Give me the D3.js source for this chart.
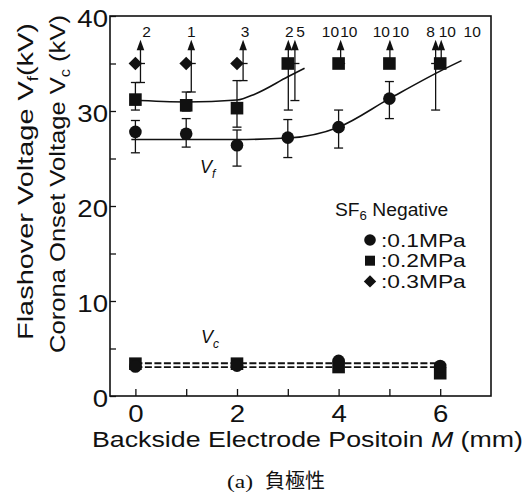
<!DOCTYPE html>
<html>
<head>
<meta charset="utf-8">
<script src="https://cdn.jsdelivr.net/npm/d3@7"></script>
<style>
body{margin:0;background:#fff;}
svg{display:block;}
text{font-family:"Liberation Sans",Arial,sans-serif;fill:#111;}
</style>
</head>
<body>
<div id="chart"></div>
<script>
// values (kV vs position M in mm)
var xTicks = [0, 1, 2, 3, 4, 5, 6];
var xTickLabels = [0, 2, 4, 6];
var yTicks = [0, 5, 10, 15, 20, 25, 30, 35, 40];
var yTickLabels = [0, 10, 20, 30, 40];

// flashover voltage: [M, value, low, high]
var vf01 = [[0, 27.8, 25.6, 29.0], [1, 27.6, 26.2, 29.2], [2, 26.4, 24.2, 28.0], [3, 27.2, 25.1, 29.1], [4, 28.3, 26.1, 30.1], [5, 31.3, 29.2, 33.1]];
var vf02 = [[0, 31.2, 30.1, 33.0], [1, 30.6, 30.0, 32.0], [2, 30.3, 28.3, 33.2], [3, 35, 35, 35], [4, 35, 35, 35], [5, 35, 35, 35], [6, 35, 35, 35]];
var vf03 = [[0, 35], [1, 35], [2, 35]];

// hand drawn fit curves
var fit01 = [[-0.08, 27.0], [1, 27.0], [2, 27.0], [3, 27.15], [4, 28.3], [5, 31.3], [6, 34.2], [6.42, 35.3]];
var fit02 = [[-0.08, 31.15], [1, 30.95], [2, 31.15], [2.36, 31.8], [3, 33.6], [3.33, 34.5]];

// corona onset voltage
var vc01 = [[0, 3.1], [2, 3.2], [4, 3.7], [6, 3.15]];
var vc02 = [[0, 3.4], [2, 3.4], [4, 3.05], [6, 2.4]];
var vcFitA = [[0, 3.45], [6, 3.45]];
var vcFitB = [[0, 3.05], [6, 3.05]];

// no-flashover arrows: [M, lower end], and the counts written above them
var arrows = [[0.1, 33.0], [1.1, 32.0], [2.12, 33.2], [3.01, 30.1], [3.14, 31.1], [4.04, 35], [5.01, 35], [5.91, 30.1], [6.02, 35]];
var counts = [[0.22, "2"], [1.1, "1"], [2.16, "3"], [3.03, "2"], [3.25, "5"], [3.84, "10"], [4.2, "10"], [4.84, "10"], [5.22, "10"], [5.81, "8"], [6.14, "10"], [6.63, "10"]];
var legendItems = [{shape: "circle", label: ":0.1MPa"}, {shape: "square", label: ":0.2MPa"}, {shape: "diamond", label: ":0.3MPa"}];

var W = 530, H = 493;
var svg = d3.select("#chart").append("svg").attr("width", W).attr("height", H);

var x = d3.scaleLinear().domain([-0.5, 7]).range([110, 491]);
var y = d3.scaleLinear().domain([0, 40]).range([396, 16]);

// stretch text horizontally (the original font is wide)
function stretch(sel, k) {
  sel.each(function() {
    var w = this.getComputedTextLength();
    d3.select(this).attr("textLength", w * k).attr("lengthAdjust", "spacingAndGlyphs");
  });
}

// axes
var xAxis = svg.append("g").attr("transform", "translate(0," + y(0) + ")")
  .call(d3.axisBottom(x).tickValues(xTicks).tickSize(-7).tickPadding(10)
    .tickFormat(function(d) { return xTickLabels.indexOf(d) >= 0 ? d : ""; }));
var yAxis = svg.append("g").attr("transform", "translate(" + x(-0.5) + ",0)")
  .call(d3.axisLeft(y).tickValues(yTicks).tickSize(-6).tickPadding(2)
    .tickFormat(function(d) { return yTickLabels.indexOf(d) >= 0 ? d : ""; }));
[xAxis, yAxis].forEach(function(a) {
  a.select(".domain").remove();
  a.selectAll("line").attr("stroke", "#111").attr("stroke-width", 1.3);
  a.selectAll("text").attr("font-size", 23).attr("fill", "#111")
    .style("font-family", '"Liberation Sans",Arial,sans-serif');
});
yAxis.selectAll("text").attr("dy", "0.45em");
stretch(xAxis.selectAll("text"), 1.2);
stretch(yAxis.selectAll("text"), 1.2);

// frame
svg.append("rect").attr("x", x(-0.5)).attr("y", y(40))
  .attr("width", x(7) - x(-0.5)).attr("height", y(0) - y(40))
  .attr("fill", "none").attr("stroke", "#111").attr("stroke-width", 1.6);

// fit curves
var line = d3.line().x(function(d) { return x(d[0]); }).y(function(d) { return y(d[1]); })
  .curve(d3.curveMonotoneX);
[fit01, fit02].forEach(function(f) {
  svg.append("path").attr("d", line(f)).attr("fill", "none").attr("stroke", "#111").attr("stroke-width", 1.6);
});
[vcFitA, vcFitB].forEach(function(f) {
  svg.append("path").attr("d", line(f)).attr("fill", "none").attr("stroke", "#111")
    .attr("stroke-width", 1.8).attr("stroke-dasharray", "7,2.5");
});

// error bars
var cap = 4.5;
function errBar(xv, lo, hi) {
  var g = svg.append("g").attr("stroke", "#111").attr("stroke-width", 1.3);
  g.append("line").attr("x1", x(xv)).attr("x2", x(xv)).attr("y1", y(lo)).attr("y2", y(hi));
  [lo, hi].forEach(function(v) {
    g.append("line").attr("x1", x(xv) - cap).attr("x2", x(xv) + cap).attr("y1", y(v)).attr("y2", y(v));
  });
}
vf01.forEach(function(d) { errBar(d[0], d[2], d[3]); });
vf02.forEach(function(d) { if (d[2] < d[3]) errBar(d[0], d[2], d[3]); });

// arrows (did not flash over up to the max test voltage)
var tipV = 37.5;
arrows.forEach(function(a) {
  var g = svg.append("g");
  var px = x(a[0]);
  g.append("line").attr("x1", px).attr("x2", px).attr("y1", y(a[1])).attr("y2", y(tipV) + 8)
    .attr("stroke", "#111").attr("stroke-width", 1.3);
  g.append("line").attr("x1", px - cap).attr("x2", px + cap).attr("y1", y(35)).attr("y2", y(35))
    .attr("stroke", "#111").attr("stroke-width", 1.3);
  if (a[1] < 35) {
    g.append("line").attr("x1", px - cap).attr("x2", px + cap).attr("y1", y(a[1])).attr("y2", y(a[1]))
      .attr("stroke", "#111").attr("stroke-width", 1.3);
  }
  g.append("path").attr("d", "M" + px + "," + y(tipV) + "L" + (px - 3.8) + "," + (y(tipV) + 10.5) + "L" + (px + 3.8) + "," + (y(tipV) + 10.5) + "Z")
    .attr("fill", "#111");
});
svg.append("g").selectAll("text").data(counts).enter().append("text")
  .attr("x", function(d) { return x(d[0]); }).attr("y", y(37.75))
  .attr("text-anchor", "middle").attr("font-size", 15.5)
  .text(function(d) { return d[1]; });

// markers
function marker(g, shape, cx, cy) {
  if (shape === "circle") g.append("circle").attr("cx", cx).attr("cy", cy).attr("r", 6.3).attr("fill", "#111");
  else if (shape === "square") g.append("rect").attr("x", cx - 6.3).attr("y", cy - 6.3).attr("width", 12.6).attr("height", 12.6).attr("fill", "#111");
  else g.append("path").attr("d", "M" + cx + "," + (cy - 6.8) + "L" + (cx + 6.8) + "," + cy + "L" + cx + "," + (cy + 6.8) + "L" + (cx - 6.8) + "," + cy + "Z").attr("fill", "#111");
}
var mk = svg.append("g");
vc02.forEach(function(d) { marker(mk, "square", x(d[0]), y(d[1])); });
vc01.forEach(function(d) { marker(mk, "circle", x(d[0]), y(d[1])); });
vf01.forEach(function(d) { marker(mk, "circle", x(d[0]), y(d[1])); });
vf02.forEach(function(d) { marker(mk, "square", x(d[0]), y(d[1])); });
vf03.forEach(function(d) { marker(mk, "diamond", x(d[0]), y(d[1])); });

// curve labels
function vLabel(px, py, sub) {
  var t = svg.append("text").attr("x", px).attr("y", py).attr("font-size", 18).attr("font-style", "italic");
  t.append("tspan").text("V");
  t.append("tspan").attr("font-size", 12).attr("dy", 5).text(sub);
}
vLabel(200, 173, "f");
vLabel(201, 343, "c");

// legend
var lg = svg.append("g");
var lt = lg.append("text").attr("x", 335).attr("y", 216).attr("font-size", 17.5);
lt.append("tspan").text("SF");
lt.append("tspan").attr("font-size", 12).attr("dy", 4).text("6");
lt.append("tspan").attr("dy", -4).text(" Negative");
stretch(lt, 1.1);
legendItems.forEach(function(d, i) {
  var cy = 240 + i * 20.7;
  if (d.shape === "circle") lg.append("circle").attr("cx", 370).attr("cy", cy).attr("r", 5.8).attr("fill", "#111");
  else if (d.shape === "square") lg.append("rect").attr("x", 365).attr("y", cy - 5).attr("width", 10).attr("height", 10).attr("fill", "#111");
  else lg.append("path").attr("d", "M370," + (cy - 6.2) + "L376.2," + cy + "L370," + (cy + 6.2) + "L363.8," + cy + "Z").attr("fill", "#111");
  var t = lg.append("text").attr("x", 381).attr("y", cy + 6.5).attr("font-size", 17.5).text(d.label);
  stretch(t, 1.3);
});

// axis titles
var xt = svg.append("text").attr("x", 92).attr("y", 447).attr("font-size", 22);
xt.append("tspan").text("Backside Electrode Positoin ");
xt.append("tspan").attr("font-style", "italic").text("M");
xt.append("tspan").text(" (mm)");
xt.attr("textLength", 431).attr("lengthAdjust", "spacingAndGlyphs");

var y1 = svg.append("text").attr("transform", "translate(33,181.5) rotate(-90)")
  .attr("text-anchor", "middle").attr("font-size", 22);
y1.append("tspan").text("Flashover Voltage V");
y1.append("tspan").attr("font-size", 14).attr("dy", 5).text("f");
y1.append("tspan").attr("dy", -5).text("(kV)");
y1.attr("textLength", 317).attr("lengthAdjust", "spacingAndGlyphs");

var y2 = svg.append("text").attr("transform", "translate(65,184) rotate(-90)")
  .attr("text-anchor", "middle").attr("font-size", 22);
y2.append("tspan").text("Corona Onset Voltage V");
y2.append("tspan").attr("font-size", 14).attr("dy", 5).text("c");
y2.append("tspan").attr("dy", -5).text(" (kV)");
y2.attr("textLength", 338).attr("lengthAdjust", "spacingAndGlyphs");

// caption
svg.append("text").attr("x", 227).attr("y", 488).attr("font-size", 19)
  .style("font-family", '"Liberation Serif","Times New Roman",serif').text("(a)")
  .attr("textLength", 26).attr("lengthAdjust", "spacingAndGlyphs");
svg.append("text").attr("x", 265).attr("y", 488).attr("font-size", 20)
  .style("font-family", '"Noto Sans CJK JP","Noto Sans CJK SC",sans-serif').text("負極性");
</script>
</body>
</html>
